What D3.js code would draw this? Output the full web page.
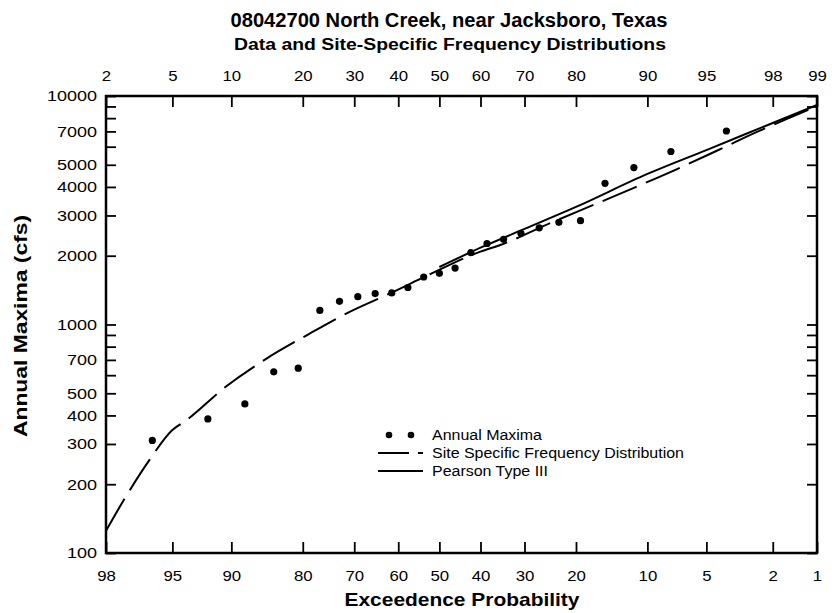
<!DOCTYPE html>
<html><head><meta charset="utf-8">
<script src="https://cdn.jsdelivr.net/npm/d3@7"></script>
<style>
body{margin:0;background:#fff}
svg{display:block}
text{font-family:"Liberation Sans",Arial,Helvetica,sans-serif;fill:#000}
</style>
</head><body>
<svg id="c" width="832" height="613"></svg>
<script>
// ---- data ----
const obsExceed = [96.15, 92.31, 88.46, 84.62, 80.77, 76.92, 73.08, 69.23, 65.38, 61.54, 57.69, 53.85, 50.00,
                   46.15, 42.31, 38.46, 34.62, 30.77, 26.92, 23.08, 19.23, 15.38, 11.54, 7.69, 3.85];
const obsFlow   = [311, 386, 449, 621, 644, 1152, 1263, 1324, 1365, 1374, 1452, 1614, 1675,
                   1765, 2062, 2262, 2360, 2506, 2650, 2800, 2847, 4150, 4860, 5715, 7028];
const siteExceed = [98, 97.4, 96.3, 95.0, 94.1, 90.6, 85.6, 79.0, 71.3, 61.9, 52.3, 42.1, 40.0, 35.4, 24.1, 16.9, 11.4, 7.2, 4.4, 2.5, 1.35, 1];
const siteFlow   = [125, 171, 255, 345, 379, 534, 711, 906, 1127, 1369, 1659, 2014, 2083, 2228, 2818, 3357, 3985, 4778, 5744, 6980, 8341, 9040];
const p3Exceed = [50, 40, 30, 20, 10, 5, 2, 1];
const p3Flow   = [1785, 2168, 2620, 3270, 4560, 5800, 7620, 9133];
const bottomTicks = [98, 95, 90, 80, 70, 60, 50, 40, 30, 20, 10, 5, 2, 1];
const topTicks    = [2, 5, 10, 20, 30, 40, 50, 60, 70, 80, 90, 95, 98, 99];
const yTicks  = [100, 200, 300, 400, 500, 600, 700, 800, 900, 1000, 2000, 3000, 4000, 5000, 6000, 7000, 8000, 9000, 10000];
const yLabels = [100, 200, 300, 400, 500, 700, 1000, 2000, 3000, 4000, 5000, 7000, 10000];
const title = "08042700 North Creek, near Jacksboro, Texas";
const subtitle = "Data and Site-Specific Frequency Distributions";
const xTitle = "Exceedence Probability";
const yTitle = "Annual Maxima (cfs)";
const legendLabels = ["Annual Maxima", "Site Specific Frequency Distribution", "Pearson Type III"];

// inverse standard normal CDF (Acklam)
function probit(p){
  const a=[-3.969683028665376e+01,2.209460984245205e+02,-2.759285104469687e+02,1.383577518672690e+02,-3.066479806614716e+01,2.506628277459239e+00];
  const b=[-5.447609879822406e+01,1.615858368580409e+02,-1.556989798598866e+02,6.680131188771972e+01,-1.328068155288572e+01];
  const c=[-7.784894002430293e-03,-3.223964580411365e-01,-2.400758277161838e+00,-2.549732539343734e+00,4.374664141464968e+00,2.938163982698783e+00];
  const d=[7.784695709041462e-03,3.224671290700398e-01,2.445134137142996e+00,3.754408661907416e+00];
  const pl=0.02425, ph=1-pl; let q,r;
  if(p<pl){q=Math.sqrt(-2*Math.log(p));return (((((c[0]*q+c[1])*q+c[2])*q+c[3])*q+c[4])*q+c[5])/((((d[0]*q+d[1])*q+d[2])*q+d[3])*q+1);}
  if(p<=ph){q=p-0.5;r=q*q;return (((((a[0]*r+a[1])*r+a[2])*r+a[3])*r+a[4])*r+a[5])*q/(((((b[0]*r+b[1])*r+b[2])*r+b[3])*r+b[4])*r+1);}
  q=Math.sqrt(-2*Math.log(1-p));return -(((((c[0]*q+c[1])*q+c[2])*q+c[3])*q+c[4])*q+c[5])/((((d[0]*q+d[1])*q+d[2])*q+d[3])*q+1);
}

const L=106, R=817, T=96, B=553;
const svg = d3.select("#c");
const xz = d3.scaleLinear().domain([probit(0.02), probit(0.99)]).range([L, R]);
const xE = p => xz(probit(1 - p/100));
const y = d3.scaleLog().domain([100, 10000]).range([B, T]);

function widen(sel, k){
  sel.each(function(){
    const w = this.getComputedTextLength();
    if (w > 0) d3.select(this).attr("textLength", w*k).attr("lengthAdjust","spacingAndGlyphs");
  });
}

// titles
svg.append("text").attr("x", 449).attr("y", 27).attr("text-anchor","middle")
  .style("font-size","19.5px").style("font-weight","bold").text(title)
  .attr("textLength", 437).attr("lengthAdjust","spacingAndGlyphs");
svg.append("text").attr("x", 450).attr("y", 50).attr("text-anchor","middle")
  .style("font-size","16px").style("font-weight","bold").text(subtitle)
  .attr("textLength", 432).attr("lengthAdjust","spacingAndGlyphs");

// axes
const fs = "15px";
const gB = svg.append("g").attr("transform",`translate(0,${B})`)
  .call(d3.axisBottom(xz).tickValues(bottomTicks.map(p=>probit(1-p/100))).tickFormat((d,i)=>bottomTicks[i])
    .tickSizeInner(-11).tickSizeOuter(0).tickPadding(17));
const gT = svg.append("g").attr("transform",`translate(0,${T})`)
  .call(d3.axisTop(xz).tickValues(topTicks.map(p=>probit(p/100))).tickFormat((d,i)=>topTicks[i])
    .tickSizeInner(-11).tickSizeOuter(0).tickPadding(15));
const gL = svg.append("g").attr("transform",`translate(${L},0)`)
  .call(d3.axisLeft(y).tickValues(yTicks).tickFormat(d => yLabels.includes(d) ? d : "")
    .tickSizeInner(-10).tickSizeOuter(0).tickPadding(9));
const gR = svg.append("g").attr("transform",`translate(${R},0)`)
  .call(d3.axisRight(y).tickValues(yTicks).tickFormat("")
    .tickSizeInner(-10).tickSizeOuter(0));
[gB,gT,gL,gR].forEach(g=>{
  g.select(".domain").remove();
  g.selectAll(".tick line").attr("stroke","#000").attr("stroke-width",1.8);
  g.selectAll(".tick text").attr("fill","#000").style("font-size",fs)
    .style("font-family",'"Liberation Sans",Arial,sans-serif');
});
widen(gB.selectAll(".tick text"), 1.12);
widen(gT.selectAll(".tick text"), 1.12);
widen(gL.selectAll(".tick text"), 1.2);

// frame
svg.append("rect").attr("x",L).attr("y",T).attr("width",R-L).attr("height",B-T)
  .attr("fill","none").attr("stroke","#000").attr("stroke-width",2.5);

// axis titles
svg.append("text").attr("x", 462).attr("y", 606).attr("text-anchor","middle")
  .style("font-size","19px").style("font-weight","bold").text(xTitle)
  .attr("textLength", 235).attr("lengthAdjust","spacingAndGlyphs");
svg.append("text").attr("transform","translate(27,326) rotate(-90)").attr("text-anchor","middle")
  .style("font-size","18px").style("font-weight","bold").text(yTitle)
  .attr("textLength", 222).attr("lengthAdjust","spacingAndGlyphs");

// curves
const line = d3.line().x(d=>xE(d[0])).y(d=>y(d[1])).curve(d3.curveMonotoneX);
const siteData = siteExceed.map((p,i)=>[p, siteFlow[i]]);
const p3Data = p3Exceed.map((p,i)=>[p, p3Flow[i]]);
const plot = svg.append("g");
plot.append("path").datum(siteData).attr("d", line).attr("fill","none")
  .attr("stroke","#000").attr("stroke-width",2).attr("stroke-dasharray","37,10");
plot.append("path").datum(p3Data).attr("d", line).attr("fill","none")
  .attr("stroke","#000").attr("stroke-width",2);

// points
plot.selectAll("circle.obs").data(obsExceed.map((p,i)=>[p, obsFlow[i]])).join("circle")
  .attr("class","obs").attr("cx", d=>xE(d[0])).attr("cy", d=>y(d[1])).attr("r",3.6).attr("fill","#000");

// legend
const lg = svg.append("g");
const lx0 = 378, lx1 = 423, ly = [435, 453, 471];
[389, 411].forEach(cx => lg.append("circle").attr("cx",cx).attr("cy",ly[0]).attr("r",3.3).attr("fill","#000"));
lg.append("line").attr("x1",lx0).attr("x2",lx1).attr("y1",ly[1]).attr("y2",ly[1])
  .attr("stroke","#000").attr("stroke-width",2).attr("stroke-dasharray","31,9");
lg.append("line").attr("x1",lx0).attr("x2",lx1).attr("y1",ly[2]).attr("y2",ly[2])
  .attr("stroke","#000").attr("stroke-width",2);
const legendWidths = [110, 252, 116];
legendLabels.forEach((t,i)=>{
  lg.append("text").attr("x",432).attr("y",ly[i]).attr("dy","0.35em").style("font-size","14px").text(t)
    .attr("textLength", legendWidths[i]).attr("lengthAdjust","spacingAndGlyphs");
});
</script>
</body></html>
